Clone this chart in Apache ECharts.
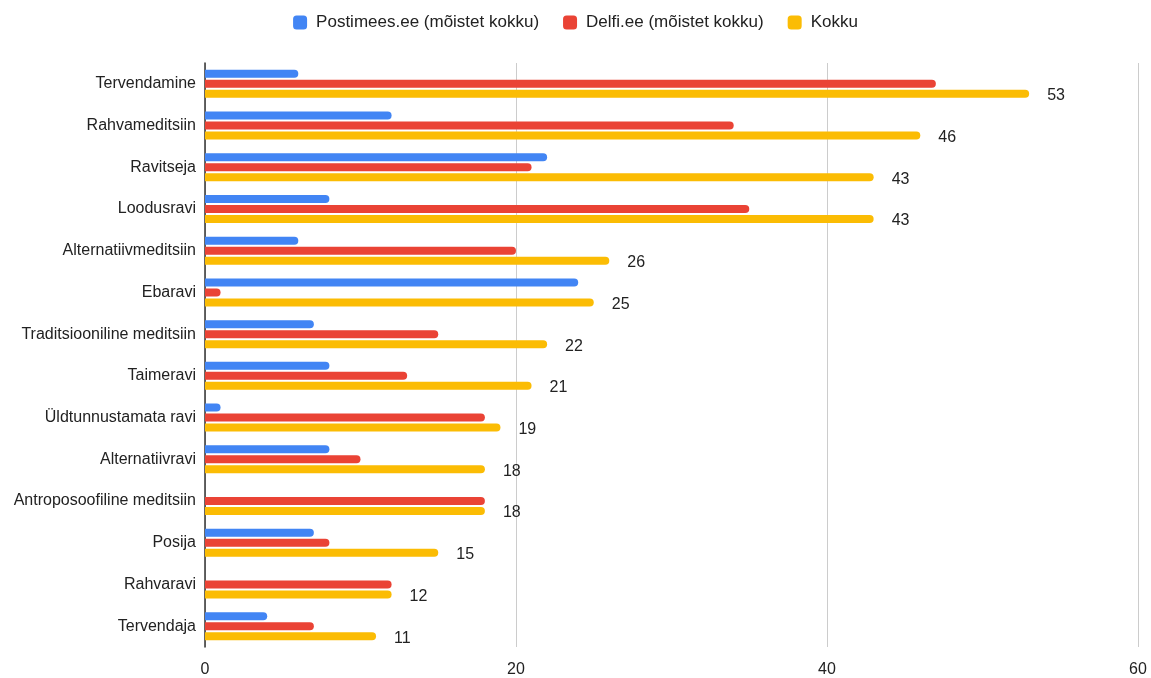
<!DOCTYPE html>
<html>
<head>
<meta charset="utf-8">
<script src="https://cdn.jsdelivr.net/npm/echarts@6/dist/echarts.min.js"></script>
<style>html,body{margin:0;padding:0;background:#fff}#c{width:1151px;height:678px}</style>
</head>
<body>
<div id="c"></div>
<script>
const categories = ["Tervendamine","Rahvameditsiin","Ravitseja","Loodusravi","Alternatiivmeditsiin","Ebaravi","Traditsiooniline meditsiin","Taimeravi","Üldtunnustamata ravi","Alternatiivravi","Antroposoofiline meditsiin","Posija","Rahvaravi","Tervendaja"];
const postimees = [6,12,22,8,6,24,7,8,1,8,0,7,0,4];
const delfi = [47,34,21,35,20,1,15,13,18,10,18,8,12,7];
const kokku = [53,46,43,43,26,25,22,21,19,18,18,15,12,11];
const xTicks = [0,20,40,60];

const chart = echarts.init(document.getElementById('c'));
const font = '"Liberation Sans", Arial, sans-serif';
function bar(name, data, color, label) {
  return {
    name, type: 'bar', data, barWidth: 8, barGap: '25%',
    itemStyle: { color, borderRadius: [0,4,4,0] },
    label: label ? { show: true, position: 'right', distance: 18, color: '#222', fontSize: 16, fontFamily: font, offset: [0, 2] } : { show: false }
  };
}
chart.setOption({
  animation: false,
  textStyle: { fontFamily: font },
  legend: {
    top: 9, left: 'center', itemWidth: 14, itemHeight: 14, itemGap: 24,
    icon: 'roundRect',
    textStyle: { fontSize: 17, color: '#222', fontFamily: font, padding: [0,0,0,4] }
  },
  grid: { left: 205, right: 13, top: 63, bottom: 29, containLabel: false },
  xAxis: {
    type: 'value', min: xTicks[0], max: xTicks[xTicks.length-1], interval: 20,
    axisLine: { show: false }, axisTick: { show: false },
    axisLabel: { color: '#222', fontSize: 16, margin: 15, fontFamily: font },
    splitLine: { lineStyle: { color: '#cccccc', width: 1 } }
  },
  yAxis: {
    type: 'category', data: categories, inverse: true,
    axisLine: { show: true, lineStyle: { color: '#333', width: 1.5 } },
    axisTick: { show: false },
    axisLabel: { color: '#222', fontSize: 16, margin: 9, fontFamily: font }
  },
  series: [
    bar('Postimees.ee (mõistet kokku)', postimees, '#4285F4', false),
    bar('Delfi.ee (mõistet kokku)', delfi, '#EA4335', false),
    bar('Kokku', kokku, '#FBBC04', true)
  ]
});
</script>
</body>
</html>
